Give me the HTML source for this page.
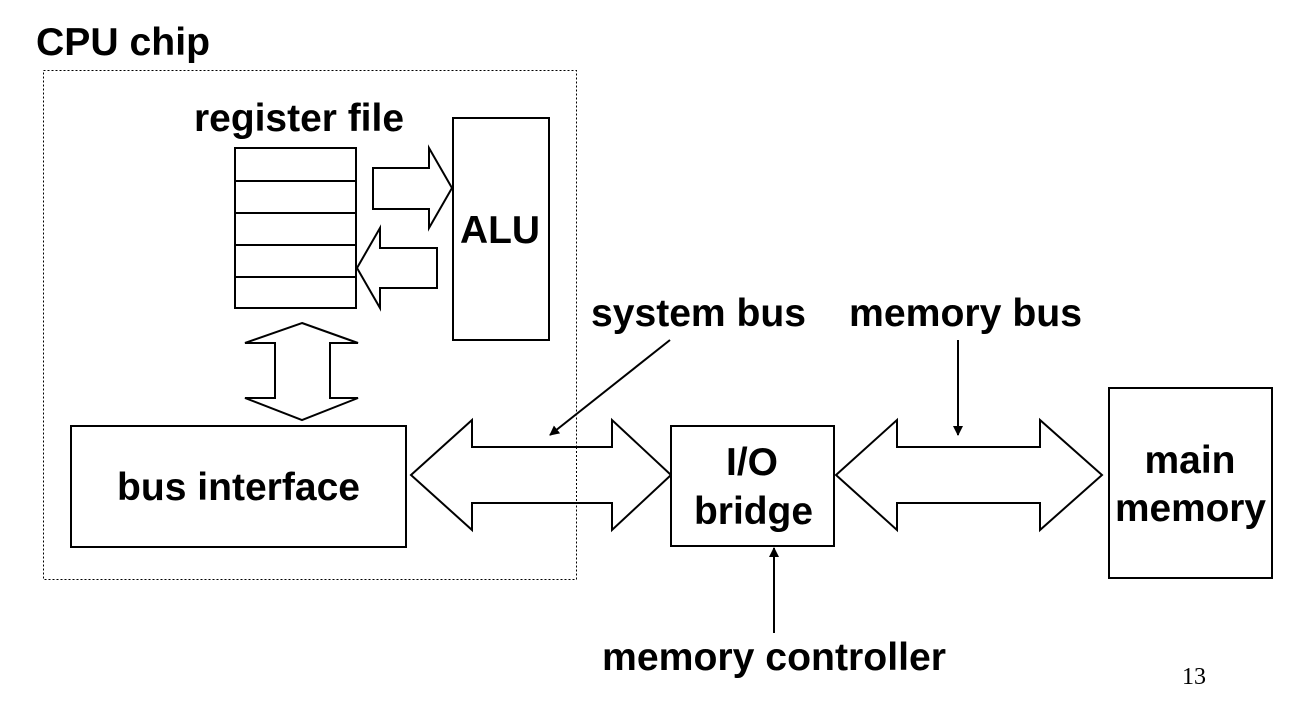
<!DOCTYPE html>
<html><head><meta charset="utf-8"><style>
html,body{margin:0;padding:0;background:#fff;width:1311px;height:711px;overflow:hidden}
text{font-family:"Liberation Sans",Arial,sans-serif;font-weight:bold;font-size:39px;fill:#000}
</style></head><body>
<svg width="1311" height="711" viewBox="0 0 1311 711" xmlns="http://www.w3.org/2000/svg">
<defs><marker id="ah" markerWidth="10" markerHeight="10" refX="9" refY="5" orient="auto" markerUnits="userSpaceOnUse"><path d="M0,0 L10,5 L0,10 z" fill="#000"/></marker></defs>
<g fill="none" stroke="#000" stroke-width="2">
<rect x="43.5" y="70.5" width="533" height="509" stroke-width="1" stroke-dasharray="2,2"/>
<rect x="235" y="148" width="121" height="160" fill="#fff"/>
<line x1="235" y1="181" x2="356" y2="181"/><line x1="235" y1="213" x2="356" y2="213"/>
<line x1="235" y1="245" x2="356" y2="245"/><line x1="235" y1="277" x2="356" y2="277"/>
<rect x="453" y="118" width="96" height="222" fill="#fff"/>
<path d="M373,168 L429,168 L429,148 L452,188 L429,228 L429,209 L373,209 Z" fill="#fff"/>
<path d="M437,248 L380,248 L380,228 L357,268 L380,308 L380,288 L437,288 Z" fill="#fff"/>
<path d="M302,323 L358,343 L330,343 L330,398 L358,398 L302,420 L245,398 L275,398 L275,343 L245,343 Z" fill="#fff"/>
<rect x="71" y="426" width="335" height="121" fill="#fff"/>
<path d="M411,475 L472,420 L472,447 L612,447 L612,420 L671,475 L612,530 L612,503 L472,503 L472,530 Z" fill="#fff"/>
<line x1="576.5" y1="447" x2="576.5" y2="503" stroke-width="1" stroke-dasharray="2,2"/>
<rect x="671" y="426" width="163" height="120" fill="#fff"/>
<path d="M836,475 L897,420 L897,447 L1040,447 L1040,420 L1102,475 L1040,530 L1040,503 L897,503 L897,530 Z" fill="#fff"/>
<rect x="1109" y="388" width="163" height="190" fill="#fff"/>
<line x1="670" y1="340" x2="550" y2="435" marker-end="url(#ah)"/>
<line x1="958" y1="340" x2="958" y2="435" marker-end="url(#ah)"/>
<line x1="774" y1="633" x2="774" y2="548" marker-end="url(#ah)"/>
</g>
<text x="36" y="55" textLength="174" lengthAdjust="spacingAndGlyphs">CPU chip</text>
<text x="194" y="131" textLength="210" lengthAdjust="spacingAndGlyphs">register file</text>
<text x="460" y="243" textLength="80" lengthAdjust="spacingAndGlyphs">ALU</text>
<text x="591" y="326" textLength="215" lengthAdjust="spacingAndGlyphs">system bus</text>
<text x="849" y="326" textLength="233" lengthAdjust="spacingAndGlyphs">memory bus</text>
<text x="117" y="500" textLength="243" lengthAdjust="spacingAndGlyphs">bus interface</text>
<text x="752" y="475" text-anchor="middle">I/O</text>
<text x="694" y="524" textLength="119" lengthAdjust="spacingAndGlyphs">bridge</text>
<text x="1190" y="473" text-anchor="middle">main</text>
<text x="1115" y="521" textLength="151" lengthAdjust="spacingAndGlyphs">memory</text>
<text x="602" y="670" textLength="344" lengthAdjust="spacingAndGlyphs">memory controller</text>
<text x="1182" y="684" style="font-family:'Liberation Serif',serif;font-weight:normal;font-size:24px">13</text>
</svg>
</body></html>
